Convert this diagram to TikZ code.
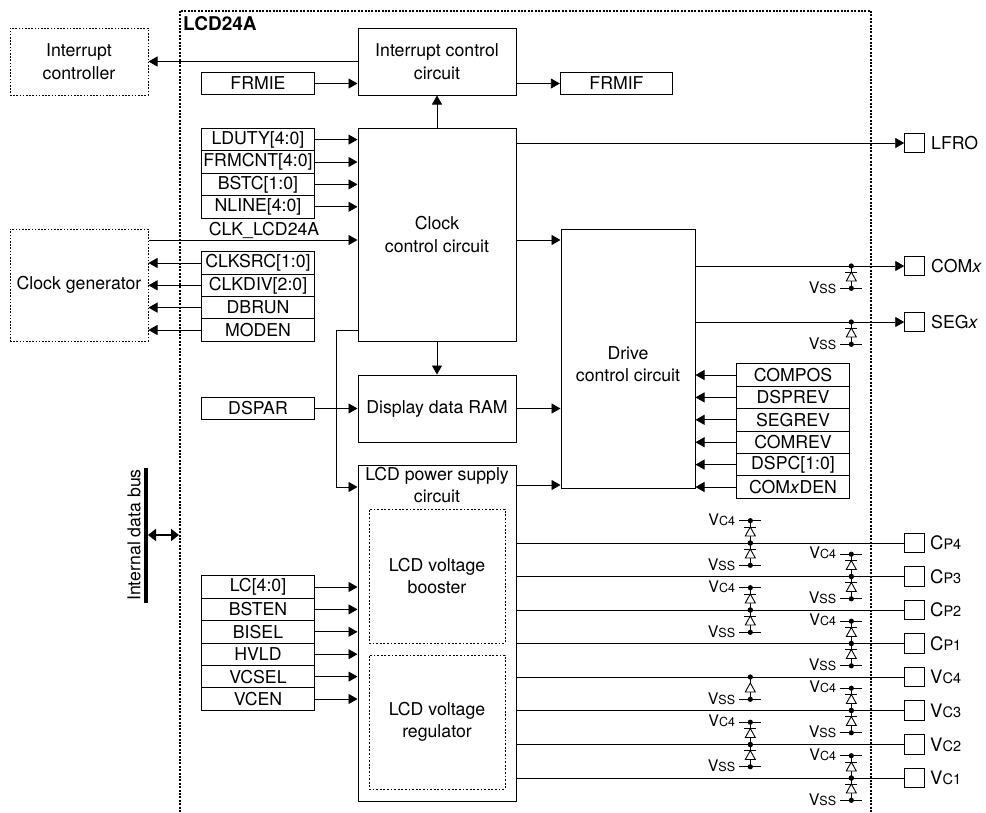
\documentclass[tikz,border=0pt]{standalone}
\usepackage{fontspec}
\setmainfont{TeX Gyre Heros}
\usetikzlibrary{arrows.meta}
\newcommand{\mainsz}{\fontsize{17.7}{22.4}\selectfont}
\newcommand{\Vlab}[2]{{\fontsize{16}{16}\selectfont #1}{\fontsize{12.5}{16}\selectfont #2}}
\newcommand{\Plab}[2]{{\fontsize{18.5}{22}\selectfont #1}{\fontsize{14.5}{16}\selectfont #2}}
\newcommand{\dioUp}[2]{% upper: Vc4 rail above the line
  \fill (#1,#2-22.3) circle (2.6);
  \fill (#1,#2) circle (2.6);
  \draw[wire] (#1-11,#2-22.3) -- (#1+11,#2-22.3);
  \draw[wire] (#1,#2-22.3) -- (#1,#2);
  \draw[wire,fill=white] (#1,#2-16) -- (#1+5,#2-7) -- (#1-5,#2-7) -- cycle;
  \draw[wire] (#1-6,#2-16) -- (#1+6,#2-16);
  \node[vl,anchor=east] at (#1-15,#2-23.5) {\Vlab{V}{C4}};
}
\newcommand{\dioDown}[3]{% lower: Vss rail below the line; #3 draws the bar
  \fill (#1,#2+22.3) circle (2.6);
  \fill (#1,#2) circle (2.6);
  \draw[wire] (#1-11,#2+22.3) -- (#1+11,#2+22.3);
  \draw[wire] (#1,#2) -- (#1,#2+22.3);
  \draw[wire,fill=white] (#1,#2+6) -- (#1+5,#2+15) -- (#1-5,#2+15) -- cycle;
  #3
  \node[vl,anchor=east] at (#1-15,#2+21.5) {\Vlab{V}{SS}};
}
\newcommand{\barb}[2]{\draw[wire] (#1-6,#2+6) -- (#1+6,#2+6);}
\tikzset{
  wire/.style={line width=0.9pt,draw=black},
  arr/.style={wire,-{Triangle[length=9pt,width=10pt]}},
  reg/.style={draw=black,line width=1pt,minimum width=112.4pt,minimum height=22.4pt,inner sep=0pt,font=\mainsz,fill=white},
  blk/.style={draw=black,line width=1pt,minimum width=158pt,inner sep=0pt,align=center,font=\mainsz},
  ext/.style={draw=black,line width=1pt,dash pattern=on 1.6pt off 1.6pt,minimum width=138pt,inner sep=0pt,align=center,font=\mainsz},
  inn/.style={draw=black,line width=1pt,dash pattern=on 1.8pt off 1.8pt,minimum width=136pt,minimum height=134pt,inner sep=0pt,align=center,font=\mainsz},
  pad/.style={draw=black,line width=1pt,minimum width=19.5pt,minimum height=19.5pt,inner sep=0pt},
  plabel/.style={anchor=west,inner sep=0pt,font=\mainsz},
  txt/.style={inner sep=0pt,align=center,font=\mainsz},
  vl/.style={inner sep=0pt},
}
\begin{document}
\begin{tikzpicture}[x=1pt,y=-1pt]
\useasboundingbox (0,0) rectangle (986,812);
\fill[white] (0,0) rectangle (986,812);
% outer frame
\draw[line width=2pt,dash pattern=on 2pt off 1.4pt] (179.5,812) -- (179.5,11) -- (871,11) -- (871,812);
\node[txt,anchor=west,font=\fontsize{19}{20}\selectfont\bfseries] (title) at (183,23.5) {LCD24A};
% external blocks
\node[ext,minimum height=67pt] (intc) at (79,61.5) {Interrupt\\controller};
\node[ext,minimum height=112pt] (clkg) at (79,285) {Clock generator};
% main blocks
\node[blk,minimum height=67pt] (ictl) at (437,61.5) {Interrupt control\\circuit};
\node[blk,minimum height=213pt] (cctl) at (437,234.5) {Clock\\control circuit};
\node[blk,minimum height=67pt] (ram) at (437,408.5) {Display data RAM};
\node[blk,minimum height=336pt] (psu) at (437,633) {};
\node[txt] (psut) at (437,485) {LCD power supply\\circuit};
\node[inn] (boost) at (437,576) {LCD voltage\\booster};
\node[inn] (regu) at (437,722) {LCD voltage\\regulator};
\node[draw=black,line width=1pt,minimum width=134pt,minimum height=259pt,inner sep=0pt] (drv) at (628,358.5) {};
\node[txt] (drvt) at (628,364) {Drive\\control circuit};
% registers
\node[reg] (frmie) at (258,83.5) {FRMIE};
\node[reg] (frmif) at (616.5,83.5) {FRMIF};
\node[reg] (lduty) at (258,139.6) {LDUTY[4:0]};
\node[reg] (frmcnt) at (258,162) {FRMCNT[4:0]};
\node[reg] (bstc) at (258,184.4) {BSTC[1:0]};
\node[reg] (nline) at (258,206.8) {NLINE[4:0]};
\node[reg] (clksrc) at (258,263) {CLKSRC[1:0]};
\node[reg] (clkdiv) at (258,285.3) {CLKDIV[2:0]};
\node[reg] (dbrun) at (258,307.6) {DBRUN};
\node[reg] (moden) at (258,330) {MODEN};
\node[reg] (dspar) at (258,408.5) {DSPAR};
\node[reg] (lc) at (258,587) {LC[4:0]};
\node[reg] (bsten) at (258,609.4) {BSTEN};
\node[reg] (bisel) at (258,631.8) {BISEL};
\node[reg] (hvld) at (258,654.2) {HVLD};
\node[reg] (vcsel) at (258,676.6) {VCSEL};
\node[reg] (vcen) at (258,699) {VCEN};
\node[reg] (compos) at (793,375) {COMPOS};
\node[reg] (dsprev) at (793,397.4) {DSPREV};
\node[reg] (segrev) at (793,419.8) {SEGREV};
\node[reg] (comrev) at (793,442.2) {COMREV};
\node[reg] (dspc) at (793,464.6) {DSPC[1:0]};
\node[reg] (comxden) at (793,487) {COM\textit{x}DEN};
% pads
\node[pad] (lfro) at (914.5,143) {};
\node[pad] (comx) at (914.5,266) {};
\node[pad] (segx) at (914.5,322) {};
\node[pad] (cp4) at (914.5,543) {};
\node[pad] (cp3) at (914.5,576.5) {};
\node[pad] (cp2) at (914.5,610) {};
\node[pad] (cp1) at (914.5,643.5) {};
\node[pad] (vc4) at (914.5,677) {};
\node[pad] (vc3) at (914.5,710.5) {};
\node[pad] (vc2) at (914.5,744.5) {};
\node[pad] (vc1) at (914.5,778) {};
\node[plabel] (llfro) at (931,143) {LFRO};
\node[plabel] (lcomx) at (931,266) {COM\textit{x}};
\node[plabel] (lsegx) at (931,322) {SEG\textit{x}};
\node[plabel] (lcp4) at (930,543) {\Plab{C}{P4}};
\node[plabel] (lcp3) at (930,576.5) {\Plab{C}{P3}};
\node[plabel] (lcp2) at (930,610) {\Plab{C}{P2}};
\node[plabel] (lcp1) at (930,643.5) {\Plab{C}{P1}};
\node[plabel] (lvc4) at (930,677) {\Plab{V}{C4}};
\node[plabel] (lvc3) at (930,710.5) {\Plab{V}{C3}};
\node[plabel] (lvc2) at (930,744.5) {\Plab{V}{C2}};
\node[plabel] (lvc1) at (930,778) {\Plab{V}{C1}};
% bus
\coordinate (bustop) at (146,468);
\coordinate (busbot) at (146,603);
\coordinate (busin) at (179,535);
\draw[line width=4pt] (bustop) -- (busbot);
\draw[line width=2.4pt,{Triangle[length=8pt,width=12pt]}-{Triangle[length=8pt,width=12pt]}] (busin -| bustop) ++(2,0) -- (busin);
\node[txt,rotate=90] (bust) at (134,535) {Internal data bus};
\node[txt] (clkt) at (264,230.5) {CLK\_LCD24A};
% connectors
\draw[arr] (ictl.west |- intc.east) -- (intc.east);
\draw[arr] (frmie.east) -- (frmie.east -| ictl.west);
\draw[arr] (frmif.west -| ictl.east) -- (frmif.west);
\draw[arr] (cctl.north) -- (ictl.south);
\draw[arr] (cctl.south) -- (ram.north);
\foreach \r in {lduty,frmcnt,bstc,nline}{\draw[arr] (\r.east) -- (\r.east -| cctl.west);}
\foreach \r in {clksrc,clkdiv,dbrun,moden}{\draw[arr] (\r.west) -- (\r.west -| clkg.east);}
\foreach \r in {lc,bsten,bisel,hvld,vcsel,vcen}{\draw[arr] (\r.east) -- (\r.east -| psu.west);}
\foreach \r in {compos,dsprev,segrev,comrev,dspc,comxden}{\draw[arr] (\r.west) -- (\r.west -| drv.east);}
\draw[arr] (clkg.east |- 0,240) -- (cctl.west |- 0,240);
\draw[arr] (cctl.east |- 0,240) -- (drv.west |- 0,240);
\draw[arr] (dspar.east) -- (ram.west);
\draw[arr] (ram.east) -- (ram.east -| drv.west);
\draw[arr] (psu.east |- 0,485) -- (drv.west |- 0,485);
\draw[arr] (cctl.east |- lfro.west) -- (lfro.west);
\draw[arr] (drv.east |- comx.west) -- (comx.west);
\draw[arr] (drv.east |- segx.west) -- (segx.west);
\draw[arr] (cctl.west |- moden.west) -- (336,330) -- (336,487) -- (psu.west |- 0,487);
\foreach \p in {cp4,cp3,cp2,cp1,vc4,vc3,vc2,vc1}{\draw[wire] (psu.east |- \p.west) -- (\p.west);}
% diodes
\dioDown{851.3}{266}{\barb{851.3}{266}}
\dioDown{851.3}{322}{\barb{851.3}{322}}
\dioUp{750.3}{543}\dioDown{750.3}{543}{\barb{750.3}{543}}
\dioUp{851.3}{576.5}\dioDown{851.3}{576.5}{\barb{851.3}{576.5}}
\dioUp{750.3}{610}\dioDown{750.3}{610}{\barb{750.3}{610}}
\dioUp{851.3}{643.5}\dioDown{851.3}{643.5}{\barb{851.3}{643.5}}
\dioDown{750.3}{677}{}
\dioUp{851.3}{710.5}\dioDown{851.3}{710.5}{\barb{851.3}{710.5}}
\dioUp{750.3}{744.5}\dioDown{750.3}{744.5}{\barb{750.3}{744.5}}
\dioUp{851.3}{778}\dioDown{851.3}{778}{\barb{851.3}{778}}
\end{tikzpicture}
\end{document}
